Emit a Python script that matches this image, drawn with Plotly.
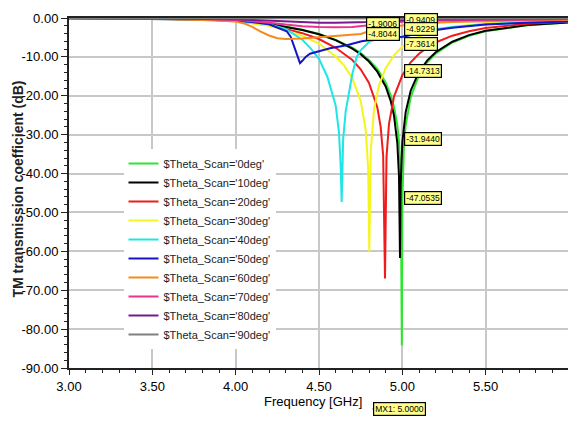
import plotly.graph_objects as go

# ---------------- data ----------------
legend_names = ["$Theta_Scan='0deg'", "$Theta_Scan='10deg'", "$Theta_Scan='20deg'",
                "$Theta_Scan='30deg'", "$Theta_Scan='40deg'", "$Theta_Scan='50deg'",
                "$Theta_Scan='60deg'", "$Theta_Scan='70deg'", "$Theta_Scan='80deg'",
                "$Theta_Scan='90deg'"]

freq_0 = [3.0, 3.5, 3.8, 4.0, 4.2, 4.3, 4.4, 4.5, 4.6, 4.7, 4.75, 4.8, 4.85, 4.9, 4.93, 4.95,
          4.97, 4.98, 4.99, 4.997, 5.0, 5.01, 5.02, 5.05, 5.1, 5.15, 5.2, 5.3, 5.4, 5.5, 5.75, 6.0]
s21_0 = [-0.05, -0.12, -0.25, -0.6, -1.5, -2.2, -3.0, -4.1, -5.66, -7.6, -9.0, -10.8, -13.1, -16.6,
         -19.8, -22.8, -27.6, -31.7, -39.4, -84.2, -47.05, -32.5, -27.6, -20.4, -14.7, -11.4, -9.2,
         -6.3, -4.6, -3.4, -1.85, -1.15]

freq_10 = [3.0, 3.5, 3.8, 4.0, 4.2, 4.3, 4.4, 4.5, 4.6, 4.7, 4.75, 4.8, 4.85, 4.9, 4.93, 4.95,
           4.97, 4.98, 4.986, 4.99, 5.0, 5.02, 5.05, 5.1, 5.15, 5.2, 5.3, 5.4, 5.5, 5.75, 6.0]
s21_10 = [-0.05, -0.15, -0.3, -0.65, -1.55, -2.3, -3.1, -4.2, -5.7, -7.9, -9.3, -11.2, -13.8, -17.6,
          -21.3, -25.1, -32.2, -40.7, -61.7, -42.8, -31.94, -24.2, -18.7, -13.8, -10.9, -8.8, -6.1,
          -4.4, -3.3, -1.8, -1.12]

freq_20 = [3.0, 3.5, 3.8, 4.0, 4.2, 4.3, 4.4, 4.5, 4.6, 4.7, 4.75, 4.8, 4.85, 4.87, 4.885, 4.896,
           4.905, 4.92, 4.95, 5.0, 5.05, 5.1, 5.15, 5.2, 5.3, 5.4, 5.5, 5.75, 6.0]
s21_20 = [-0.05, -0.15, -0.35, -0.8, -1.85, -2.8, -3.9, -5.4, -7.65, -10.8, -13.2, -16.7, -23.0,
          -28.0, -35.4, -67.0, -35.7, -27.2, -20.2, -14.73, -11.4, -9.2, -7.55, -6.3, -4.55, -3.4,
          -2.6, -1.5, -0.96]

freq_30 = [3.0, 3.5, 3.8, 4.0, 4.2, 4.3, 4.4, 4.5, 4.55, 4.6, 4.65, 4.7, 4.75, 4.78, 4.795, 4.802,
           4.81, 4.83, 4.86, 4.9, 4.95, 5.0, 5.1, 5.2, 5.3, 5.5, 5.75, 6.0]
s21_30 = [-0.05, -0.2, -0.4, -0.8, -2.0, -3.2, -4.6, -6.6, -8.2, -9.9, -12.2, -15.5, -21.3, -28.7,
          -38.7, -60.2, -34.4, -23.5, -17.3, -12.9, -9.6, -7.36, -4.75, -3.25, -2.33, -1.34, -0.78,
          -0.5]

freq_40 = [3.0, 3.5, 3.8, 4.0, 4.2, 4.3, 4.4, 4.45, 4.5, 4.55, 4.6, 4.62, 4.63, 4.636, 4.645, 4.66,
           4.676, 4.7, 4.726, 4.75, 4.8, 4.85, 4.9, 5.0, 5.1, 5.2, 5.3, 5.5, 5.75, 6.0]
s21_40 = [-0.05, -0.2, -0.4, -0.8, -1.6, -2.8, -5.6, -7.8, -10.5, -15.1, -22.5, -29.5, -38.0, -47.3,
          -31.0, -24.0, -20.3, -14.4, -10.0, -8.3, -6.2, -5.3, -5.0, -4.92, -3.8, -2.9, -2.3, -1.6,
          -1.1, -0.8]

freq_50 = [3.0, 3.5, 3.8, 4.0, 4.1, 4.2, 4.266, 4.306, 4.33, 4.346, 4.37, 4.386, 4.4, 4.42, 4.446,
           4.5, 4.566, 4.666, 4.756, 4.85, 5.0, 5.1, 5.2, 5.3, 5.5, 5.75, 6.0]
s21_50 = [-0.05, -0.2, -0.4, -0.7, -1.0, -1.6, -2.6, -3.4, -4.8, -6.6, -9.5, -11.6, -11.0, -10.0,
          -9.2, -8.5, -7.8, -7.0, -6.0, -5.4, -4.80, -3.9, -3.1, -2.5, -1.7, -1.2, -0.9]

freq_60 = [3.0, 3.5, 3.8, 4.0, 4.05, 4.1, 4.15, 4.2, 4.25, 4.3, 4.4, 4.5, 4.6, 4.7, 4.75, 4.8, 4.9,
           5.0, 5.1, 5.2, 5.3, 5.5, 5.75, 6.0]
s21_60 = [-0.05, -0.2, -0.5, -0.9, -1.4, -2.3, -3.5, -4.5, -5.2, -5.4, -5.3, -5.0, -4.7, -4.4, -4.1,
          -3.4, -2.5, -1.90, -1.5, -1.25, -1.05, -0.8, -0.6, -0.5]

freq_70 = [3.0, 3.5, 3.8, 4.0, 4.1, 4.2, 4.3, 4.4, 4.5, 4.6, 4.7, 4.8, 4.9, 5.0, 5.1, 5.3, 5.5, 6.0]
s21_70 = [-0.03, -0.1, -0.25, -0.5, -0.8, -1.2, -1.7, -2.1, -2.3, -2.4, -2.3, -1.9, -1.4, -0.94,
          -0.75, -0.55, -0.45, -0.35]

freq_80 = [3.0, 3.5, 3.8, 4.0, 4.1, 4.2, 4.3, 4.4, 4.5, 4.6, 4.7, 4.8, 4.9, 5.0, 5.2, 5.5, 6.0]
s21_80 = [-0.02, -0.08, -0.15, -0.3, -0.5, -0.7, -0.9, -1.1, -1.2, -1.2, -1.15, -1.0, -0.75, -0.55,
          -0.4, -0.3, -0.25]

freq_90 = [3.0, 3.5, 4.0, 4.3, 4.5, 4.7, 5.0, 5.5, 6.0]
s21_90 = [-0.02, -0.05, -0.12, -0.2, -0.25, -0.25, -0.2, -0.12, -0.1]

marker_freq = 5.0
marker_values = ["-0.9409", "-1.9006", "-4.9229", "-4.8044", "-7.3614", "-14.7313", "-31.9440", "-47.0535"]
marker_label_y = [-0.4, -1.65, -2.9, -4.2, -6.8, -13.7, -31.2, -46.4]
marker_side = ["r", "l", "r", "l", "r", "r", "r", "r"]

x_tick_vals = [3.0, 3.5, 4.0, 4.5, 5.0, 5.5, 6.0]
y_tick_vals = [0, -10, -20, -30, -40, -50, -60, -70, -80, -90]
y_tick_text = ["0.00", "-10.00", "-20.00", "-30.00", "-40.00", "-50.00",
               "-60.00", "-70.00", "-80.00", "-90.00"]

# ---------------- styling ----------------
colors = ["#2ee62e", "#000000", "#ee1c1c", "#f5f51e", "#1ee6e6", "#1414c8",
          "#f58a1f", "#e8358f", "#7a1a8a", "#808080"]
freqs = [freq_0, freq_10, freq_20, freq_30, freq_40, freq_50, freq_60, freq_70, freq_80, freq_90]
vals = [s21_0, s21_10, s21_20, s21_30, s21_40, s21_50, s21_60, s21_70, s21_80, s21_90]

FONT = "Liberation Sans, Arial, sans-serif"

fig = go.Figure()
for name, fx, fy, c in zip(legend_names, freqs, vals, colors):
    fig.add_trace(go.Scatter(x=fx, y=fy, mode="lines", name=name,
                             line=dict(color=c, width=2)))

for txt, yy, side in zip(marker_values, marker_label_y, marker_side):
    fig.add_annotation(x=marker_freq + (0.012 if side == "r" else -0.012), y=yy,
                       xanchor="left" if side == "r" else "right", yanchor="middle",
                       text=txt, showarrow=False,
                       font=dict(family=FONT, size=8.5, color="black"),
                       bgcolor="#ffff8c", bordercolor="black", borderwidth=1.2, borderpad=1)

# MX1 marker label under the x axis
fig.add_shape(type="line", xref="x", yref="paper", x0=4.82, x1=5.13, y0=-0.117, y1=-0.117,
              line=dict(color="#555555", width=1))
fig.add_annotation(x=4.98, y=-0.117, xref="x", yref="paper", text="MX1: 5.0000",
                   xanchor="center", yanchor="middle",
                   showarrow=False, font=dict(family=FONT, size=8.5, color="black"),
                   bgcolor="#ffff8c", bordercolor="black", borderwidth=1.2, borderpad=1)

# axis titles placed as annotations for exact position
fig.add_annotation(x=-0.104, y=0.51, xref="paper", yref="paper", textangle=-90,
                   text="<b>TM transmission coefficient (dB)</b>", showarrow=False,
                   xanchor="center", yanchor="middle", bgcolor="rgba(0,0,0,0)",
                   font=dict(family=FONT, size=14, color="#222222"))
fig.add_annotation(x=4.464, y=-0.096, xref="x", yref="paper",
                   text="Frequency [GHz]", showarrow=False,
                   xanchor="center", yanchor="middle",
                   font=dict(family=FONT, size=13, color="black"))

# the page body adds an 8px offset; the figure is sized so the plot lands where the reference has it
fig.update_layout(
    width=568, height=413,
    margin=dict(l=61, r=7, t=10, b=53, autoexpand=False),
    paper_bgcolor="white", plot_bgcolor="white",
    font=dict(family=FONT, color="black"),
    showlegend=True,
    legend=dict(x=0.109, y=0.626, xanchor="left", yanchor="top",
                bgcolor="white", borderwidth=0,
                font=dict(family=FONT, size=11, color="#222222"),
                itemwidth=30, tracegroupgap=0),
    xaxis=dict(range=[3.0, 6.0], tickvals=x_tick_vals, tickformat=".2f", automargin=False,
               showgrid=True, gridcolor="#c8c8c8", gridwidth=1.5,
               showline=True, linecolor="#222222", linewidth=2, mirror=True,
               ticks="outside", ticklen=5, tickwidth=1, tickcolor="#222222",
               minor=dict(dtick=0.1, ticks="outside", ticklen=3, tickcolor="#222222", showgrid=False),
               tickfont=dict(family=FONT, size=13, color="black"),
               zeroline=False),
    yaxis=dict(range=[-90, 0], tickvals=y_tick_vals, ticktext=y_tick_text, automargin=False,
               showgrid=True, gridcolor="#c8c8c8", gridwidth=1.5,
               showline=True, linecolor="#222222", linewidth=2, mirror=True,
               ticks="outside", ticklen=6, tickwidth=1, tickcolor="#222222",
               minor=dict(dtick=2, ticks="outside", ticklen=3, tickcolor="#222222", showgrid=False),
               tickfont=dict(family=FONT, size=13, color="black"),
               zeroline=False),
)

fig.write_html("out.html")
